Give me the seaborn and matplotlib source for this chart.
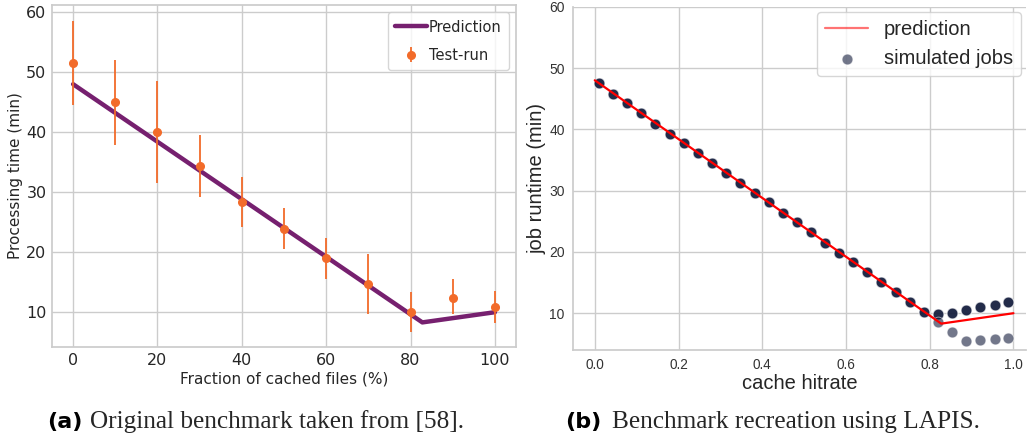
import numpy as np
import pandas as pd
import matplotlib
matplotlib.use('Agg')
import matplotlib.pyplot as plt
import seaborn as sns

# (a) original benchmark
frac_cached = [0, 10, 20, 30, 40, 50, 60, 70, 80, 90, 100]
proc_time = [51.6, 45.0, 40.1, 34.4, 28.4, 23.9, 19.0, 14.7, 10.0, 12.4, 10.8]
proc_low = [44.5, 37.8, 31.6, 29.2, 24.2, 20.5, 15.5, 9.7, 6.7, 9.7, 8.2]
proc_high = [58.6, 52.1, 48.5, 39.6, 32.6, 27.3, 22.4, 19.7, 13.3, 15.5, 13.5]
pred_x_pct = [0, 82.8, 100]
pred_y = [48.0, 8.3, 10.0]

# (b) LAPIS recreation
hitrate = [0.010, 0.044, 0.077, 0.111, 0.145, 0.179, 0.212, 0.246, 0.280, 0.314,
           0.347, 0.382, 0.415, 0.449, 0.483, 0.516, 0.550, 0.584, 0.617, 0.651,
           0.684, 0.719, 0.752, 0.786, 0.820, 0.854, 0.887, 0.921, 0.955, 0.988]
runtime_main = [47.5, 45.8, 44.3, 42.6, 40.9, 39.3, 37.8, 36.1, 34.5, 32.9,
                31.3, 29.6, 28.1, 26.4, 24.8, 23.2, 21.5, 19.9, 18.3, 16.8,
                15.1, 13.4, 11.8, 10.2, 9.8, 10.1, 10.6, 11.0, 11.4, 11.8]
hitrate_low = [0.820, 0.854, 0.887, 0.921, 0.955, 0.988]
runtime_low = [8.6, 7.0, 5.5, 5.6, 5.8, 6.0]
pred_x_rate = [0.0, 0.8275, 1.0]
jobs_per_point = 3  # overlapping jobs on the main branch

W, H = 1027, 438
sns.set_theme(style='whitegrid')
fig = plt.figure(figsize=(W / 100, H / 100), dpi=100)

# ---- left panel
ax = fig.add_axes([52 / W, 1 - 347 / H, 464 / W, 342 / H])
purple = '#76206f'
orange = '#f26b2a'
sns.lineplot(x=pred_x_pct, y=pred_y, ax=ax, color=purple, lw=3.2, label='Prediction')
yerr = [np.array(proc_time) - np.array(proc_low), np.array(proc_high) - np.array(proc_time)]
ax.errorbar(frac_cached, proc_time, yerr=yerr, fmt='o', color=orange, ms=5.5,
            elinewidth=1.3, capsize=0, label='Test-run')
ax.set_xlim(-5, 105)
ax.set_ylim(4.2, 61.2)
ax.set_xticks([0, 20, 40, 60, 80, 100])
ax.set_yticks([10, 20, 30, 40, 50, 60])
ax.tick_params(labelsize=11.5, length=0, pad=4)
ax.set_xlabel('Fraction of cached files (%)', fontsize=11, labelpad=3)
ax.set_ylabel('Processing time (min)', fontsize=11, labelpad=2)
for s in ax.spines.values():
    s.set_color('.8')
ax.legend(loc='upper right', fontsize=10.5, handlelength=2.2, handletextpad=0.1,
          labelspacing=0.9, borderpad=0.5, frameon=True)

# ---- right panel
ax2 = fig.add_axes([573 / W, 1 - 350 / H, 453 / W, 343.3 / H])
sans = ['Liberation Sans', 'DejaVu Sans']
navy = '#141d3d'
jobs = pd.concat(
    [pd.DataFrame({'hitrate': hitrate, 'runtime': runtime_main})] * jobs_per_point
    + [pd.DataFrame({'hitrate': hitrate_low, 'runtime': runtime_low})],
    ignore_index=True)
sns.lineplot(x=pred_x_rate, y=pred_y, ax=ax2, color='red', lw=1.6, label='prediction',
             zorder=5)
sns.scatterplot(data=jobs, x='hitrate', y='runtime', ax=ax2, color=navy, alpha=0.6,
                s=60, edgecolor='white', linewidth=0.6, label='simulated jobs', zorder=3)
ax2.set_xlim(-0.052, 1.03)
ax2.set_ylim(4.0, 60)
ax2.set_xticks([0.0, 0.2, 0.4, 0.6, 0.8, 1.0])
ax2.set_yticks([10, 20, 30, 40, 50, 60])
ax2.set_xticklabels([f'{t:.1f}' for t in ax2.get_xticks()], family=sans, fontsize=9.8)
ax2.set_yticklabels([f'{int(t)}' for t in ax2.get_yticks()], family=sans, fontsize=10)
ax2.tick_params(length=0, pad=6, colors='#333333')
ax2.set_xlabel('cache hitrate', family=sans, fontsize=14.5, labelpad=1)
ax2.set_ylabel('job runtime (min)', family=sans, fontsize=14.5, labelpad=2)
sns.despine(ax=ax2)
for s in ax2.spines.values():
    s.set_color('.8')
leg = ax2.legend(loc='upper right', prop={'family': sans, 'size': 14.5},
                 handlelength=2.1, handletextpad=0.8, borderpad=0.4,
                 borderaxespad=0.25, frameon=True)
leg.legend_handles[0].set_alpha(0.55)

# ---- captions
cap_serif = {'family': 'Liberation Serif', 'size': 18.2}
fig.text(47 / W, 1 - 428 / H, '(a)', fontsize=16, fontweight='bold', color='black')
fig.text(90 / W, 1 - 428 / H, 'Original benchmark taken from [58].', fontdict=cap_serif)
fig.text(565 / W, 1 - 428 / H, '(b)', fontsize=16, fontweight='bold', color='black')
fig.text(612 / W, 1 - 428 / H, 'Benchmark recreation using LAPIS.', fontdict=cap_serif)

fig.savefig('out.png', dpi=100)
